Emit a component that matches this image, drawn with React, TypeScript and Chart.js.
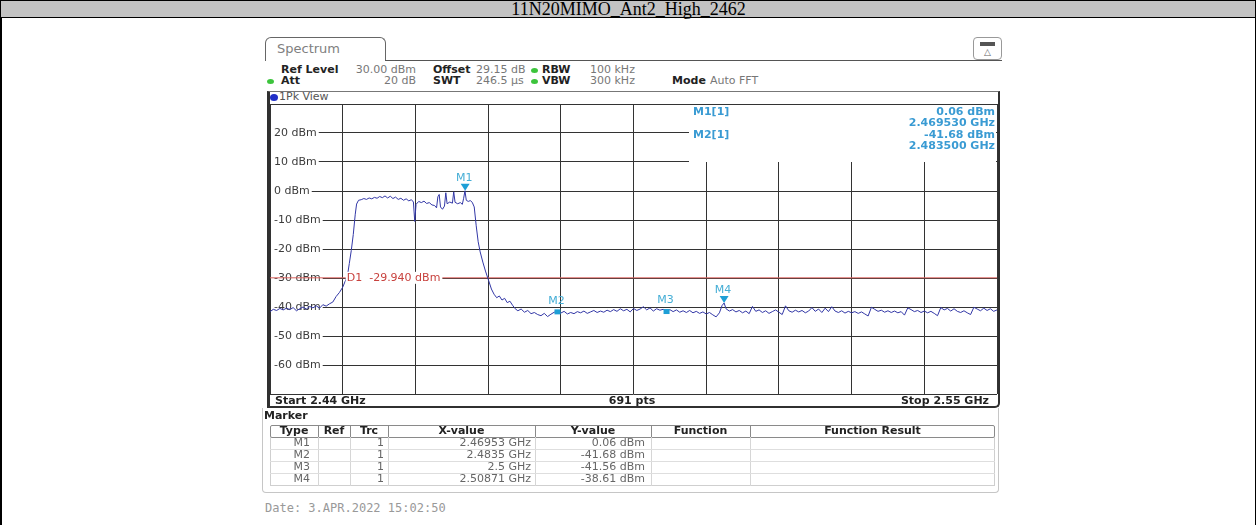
import React, { useEffect, useRef } from 'react';
import { Chart, registerables } from 'chart.js';

Chart.register(...registerables);

// ---------------- data ----------------
const chartTitle = '11N20MIMO_Ant2_High_2462';
const freqStartGHz = 2.44;
const freqStopGHz = 2.55;
const freqDivGHz = 0.011;
const levelMinDbm = -70;
const levelMaxDbm = 30;
const levelDivDb = 10;
const levelTickValues = [20, 10, 0, -10, -20, -30, -40, -50, -60];
const levelTickLabels = ['20 dBm', '10 dBm', '0 dBm', '-10 dBm', '-20 dBm', '-30 dBm', '-40 dBm', '-50 dBm', '-60 dBm'];

const traceFreqGHz = [
  2.4400, 2.4405, 2.4410, 2.4415, 2.4420, 2.4425, 2.4430, 2.4435, 2.4440, 2.4445,
  2.4450, 2.4455, 2.4460, 2.4465, 2.4470, 2.4475, 2.4480, 2.4485, 2.4490, 2.4495,
  2.4500, 2.4505, 2.4510, 2.4514, 2.4517, 2.4520, 2.4523, 2.4526, 2.4529, 2.4531,
  2.4534, 2.4538, 2.4542, 2.4546, 2.4550, 2.4554, 2.4558, 2.4562, 2.4566, 2.4570,
  2.4574, 2.4578, 2.4582, 2.4586, 2.4590, 2.4594, 2.4598, 2.4602, 2.4606, 2.4610,
  2.4614, 2.4617, 2.4619, 2.4621, 2.4625, 2.4629, 2.4633, 2.4637, 2.4641, 2.4645,
  2.4649, 2.4652, 2.4654, 2.4656, 2.4658, 2.4661, 2.4664, 2.4666, 2.4668, 2.4672,
  2.4676, 2.4678, 2.4680, 2.4684, 2.4688, 2.4691, 2.4693, 2.4695, 2.4697, 2.4700,
  2.4703, 2.4706, 2.4709, 2.4712, 2.4715, 2.4718, 2.4722, 2.4726, 2.4731, 2.4735,
  2.4739, 2.4743, 2.4747, 2.4751, 2.4755, 2.4759, 2.4763, 2.4767, 2.4771, 2.4775,
  2.4780, 2.4785, 2.4790, 2.4795, 2.4800, 2.4805, 2.4810, 2.4815, 2.4820, 2.4825,
  2.4830, 2.4835, 2.4840, 2.4845, 2.4850, 2.4855, 2.4860, 2.4865, 2.4870, 2.4875,
  2.4880, 2.4885, 2.4890, 2.4895, 2.4900, 2.4905, 2.4910, 2.4915, 2.4920, 2.4925,
  2.4930, 2.4935, 2.4940, 2.4945, 2.4950, 2.4955, 2.4960, 2.4965, 2.4970, 2.4975,
  2.4980, 2.4985, 2.4990, 2.4995, 2.5000, 2.5005, 2.5010, 2.5015, 2.5020, 2.5025,
  2.5030, 2.5035, 2.5040, 2.5045, 2.5050, 2.5055, 2.5060, 2.5065, 2.5070, 2.5075,
  2.5080, 2.5084, 2.50871, 2.5090, 2.5095, 2.5100, 2.5105, 2.5110, 2.5115, 2.5120,
  2.5125, 2.5130, 2.5135, 2.5140, 2.5145, 2.5150, 2.5155, 2.5160, 2.5165, 2.5170,
  2.5175, 2.5180, 2.5185, 2.5190, 2.5195, 2.5200, 2.5205, 2.5210, 2.5215, 2.5220,
  2.5225, 2.5230, 2.5235, 2.5240, 2.5245, 2.5250, 2.5255, 2.5260, 2.5265, 2.5270,
  2.5275, 2.5280, 2.5285, 2.5290, 2.5295, 2.5300, 2.5305, 2.5310, 2.5315, 2.5320,
  2.5325, 2.5330, 2.5335, 2.5340, 2.5345, 2.5350, 2.5355, 2.5360, 2.5365, 2.5370,
  2.5375, 2.5380, 2.5385, 2.5390, 2.5395, 2.5400, 2.5405, 2.5410, 2.5415, 2.5420,
  2.5425, 2.5430, 2.5435, 2.5440, 2.5445, 2.5450, 2.5455, 2.5460, 2.5465, 2.5470,
  2.5475, 2.5480, 2.5485, 2.5490, 2.5495, 2.5500,
];

const traceLevelDbm = [
  -41.6, -40.8, -41.2, -40.5, -41.0, -40.4, -40.9, -40.2, -41.3, -40.6,
  -40.0, -40.7, -39.8, -40.3, -39.6, -40.4, -39.2, -39.7, -38.9, -38.3,
  -36.4, -35.0, -33.2, -31.0, -29.5, -25.0, -20.5, -15.0, -8.0, -4.5,
  -3.2, -3.0, -2.6, -2.9, -2.4, -2.7, -2.2, -2.5, -1.9, -2.3,
  -1.7, -2.4, -1.8, -2.6, -2.1, -2.9, -2.5, -3.2, -2.7, -3.4,
  -3.0, -3.8, -10.5, -4.6, -3.6, -4.0, -3.5, -4.3, -4.0, -4.8,
  -5.0, -5.8, -2.0, -1.2, -5.5, -6.3, -5.2, -0.6, -4.4, -3.8,
  -4.2, -0.3, -3.9, -4.4, -4.0, -4.6, -2.5, 0.06, -3.2, -3.6,
  -3.3, -3.9, -5.5, -12.0, -17.5, -21.0, -24.5, -27.6, -31.0, -33.8,
  -35.6, -36.8, -36.2, -37.6, -37.0, -38.5, -38.0, -39.4, -40.6, -41.3,
  -40.7, -41.8, -41.2, -42.3, -41.9, -42.6, -43.0, -42.2, -43.3, -42.5,
  -41.8, -41.68, -42.1, -41.5, -42.4, -41.9, -42.3, -41.6, -42.0, -41.4,
  -42.2, -41.7, -41.2, -41.9, -41.4, -41.8, -41.1, -41.6, -40.9, -41.5,
  -40.6, -41.3, -40.8, -41.7, -40.5, -41.2, -40.7, -39.9, -41.0, -40.3,
  -41.4, -40.6, -41.1, -40.8, -41.56, -40.9, -41.6, -41.0, -41.8, -41.3,
  -41.9, -41.2, -42.0, -41.5, -42.2, -41.7, -42.4, -41.9, -42.7, -43.4,
  -42.0, -39.5, -38.61, -40.6, -41.4, -40.9, -41.7, -41.2, -42.0, -41.4,
  -42.3, -39.8, -41.5, -41.0, -41.9, -41.3, -42.2, -41.6, -41.0, -41.8,
  -42.6, -39.6, -41.3, -41.8, -41.1, -41.7, -41.2, -42.0, -41.4, -40.2,
  -41.5, -40.7, -41.9, -40.4, -41.6, -39.9, -41.4, -41.9, -41.3, -42.1,
  -41.5, -42.0, -41.6, -42.2, -41.7, -42.4, -43.1, -40.1, -40.8, -41.5,
  -41.1, -41.8, -41.3, -41.9, -41.4, -42.0, -41.6, -42.8, -40.3, -40.9,
  -41.6, -41.2, -41.9, -41.4, -42.0, -41.5, -42.2, -43.0, -40.2, -41.0,
  -40.5, -41.4, -40.6, -41.5, -41.9, -41.3, -42.0, -42.6, -40.1, -40.7,
  -41.3, -40.4, -41.2, -40.6, -41.5, -41.0,
];

const displayLineName = 'D1';
const displayLineDbm = -29.94;

const markerNames = ['M1', 'M2', 'M3', 'M4'];
const markerFreqGHz = [2.46953, 2.4835, 2.5, 2.50871];
const markerLevelDbm = [0.06, -41.68, -41.56, -38.61];
const markerTraces = [1, 1, 1, 1];
const markerSymbols = ['triangle', 'square', 'square', 'triangle'];
const markerInfoShown = [0, 1];

const tableHeaders = ['Type', 'Ref', 'Trc', 'X-value', 'Y-value', 'Function', 'Function Result'];

// ---------------- layout ----------------
const UI = '"DejaVu Sans", Verdana, sans-serif';
const PLOT = { left: 270, top: 104, width: 727, height: 290 };
const PAD = 4;
const COLS = [270, 318, 350, 388, 535, 651, 750, 995];

const TRACE_COLOR = '#3237a6';
const LINE_RED = '#d9605c';
const MARKER_CYAN = '#1e9fd6';
const MARKER_TEXT = '#45aed6';

const overlayPlugin = {
  id: 'rsOverlay',
  beforeDatasetsDraw(chart: any) {
    const { ctx, chartArea: a, scales } = chart;
    const y = scales.y;
    ctx.save();
    // marker info area covers the grid in the upper right
    ctx.fillStyle = '#ffffff';
    ctx.fillRect(a.right - 308, a.top + 1, 307, 57);
    // level labels inside the diagram
    ctx.font = `11px ${UI}`;
    ctx.textBaseline = 'middle';
    levelTickValues.forEach((v, i) => {
      const py = y.getPixelForValue(v);
      const w = ctx.measureText(levelTickLabels[i]).width;
      ctx.fillStyle = '#ffffff';
      ctx.fillRect(a.left + 1, py - 6, w + 5, 12);
      ctx.fillStyle = '#3c3c3c';
      ctx.fillText(levelTickLabels[i], a.left + 4, py + 0.5);
    });
    // marker info text
    ctx.font = `bold 11px ${UI}`;
    ctx.fillStyle = '#3a9bd3';
    markerInfoShown.forEach((m, k) => {
      const top = a.top + 8 + k * 23;
      ctx.textAlign = 'left';
      ctx.fillText(`${markerNames[m]}[${markerTraces[m]}]`, a.right - 304, top);
      ctx.textAlign = 'right';
      ctx.fillText(`${markerLevelDbm[m].toFixed(2)} dBm`, a.right - 2, top);
      ctx.fillText(`${markerFreqGHz[m].toFixed(6)} GHz`, a.right - 2, top + 11.5);
    });
    ctx.restore();
  },
  afterDatasetsDraw(chart: any) {
    const { ctx, scales } = chart;
    const x = scales.x;
    const y = scales.y;
    ctx.save();
    // display line label
    const dy = y.getPixelForValue(displayLineDbm);
    const lx = x.getPixelForValue(freqStartGHz + freqDivGHz) + 4;
    ctx.font = `11px ${UI}`;
    ctx.textBaseline = 'middle';
    const label = `${displayLineName}  ${displayLineDbm.toFixed(3)} dBm`;
    const lw = ctx.measureText(label).width;
    ctx.fillStyle = '#ffffff';
    ctx.fillRect(lx - 1, dy - 6, lw + 3, 12);
    ctx.fillStyle = '#c8423e';
    ctx.fillText(label, lx, dy + 0.5);
    // markers
    markerNames.forEach((name, i) => {
      const px = x.getPixelForValue(markerFreqGHz[i]);
      const py = y.getPixelForValue(markerLevelDbm[i]);
      ctx.fillStyle = MARKER_CYAN;
      if (markerSymbols[i] === 'triangle') {
        ctx.beginPath();
        ctx.moveTo(px, py);
        ctx.lineTo(px - 4.5, py - 7);
        ctx.lineTo(px + 4.5, py - 7);
        ctx.closePath();
        ctx.fill();
      } else {
        ctx.fillRect(px - 3, py - 2.5, 6, 5);
      }
      ctx.fillStyle = MARKER_TEXT;
      ctx.font = `11px ${UI}`;
      ctx.textAlign = 'center';
      ctx.fillText(name, px - 1, py - (markerSymbols[i] === 'triangle' ? 12.5 : 11));
    });
    ctx.restore();
  },
};

function Txt(props: any) {
  const { x, y, children, bold, color = '#333', size = 11, align = 'left', font = UI } = props;
  const w = 400;
  const style: any = {
    position: 'absolute', top: y - 8, height: 16, lineHeight: '16px',
    fontFamily: font, fontSize: size, fontWeight: bold ? 'bold' : 'normal',
    color, whiteSpace: 'nowrap',
  };
  if (align === 'left') style.left = x;
  else if (align === 'right') { style.left = x - w; style.width = w; style.textAlign = 'right'; }
  else { style.left = x - w / 2; style.width = w; style.textAlign = 'center'; }
  return <div style={style}>{children}</div>;
}

function Dot({ x, y, color }: any) {
  return <div style={{ position: 'absolute', left: x - 3.5, top: y - 2.5, width: 7, height: 5, borderRadius: '50%', background: color }} />;
}

function Box(props: any) {
  const { l, t, w, h, style } = props;
  return <div style={{ position: 'absolute', left: l, top: t, width: w, height: h, boxSizing: 'border-box', ...style }} />;
}

export default function App() {
  const ref = useRef<HTMLCanvasElement>(null);

  useEffect(() => {
    const xGrid: number[] = [];
    for (let i = 0; i <= Math.round((freqStopGHz - freqStartGHz) / freqDivGHz); i++) xGrid.push(freqStartGHz + i * freqDivGHz);
    const yGrid: number[] = [];
    for (let v = levelMinDbm; v <= levelMaxDbm; v += levelDivDb) yGrid.push(v);

    const chart = new Chart(ref.current as HTMLCanvasElement, {
      type: 'line',
      data: {
        datasets: [
          {
            data: traceFreqGHz.map((f, i) => ({ x: f, y: traceLevelDbm[i] })),
            borderColor: TRACE_COLOR,
            borderWidth: 1,
            pointRadius: 0,
            tension: 0,
          },
          {
            data: [{ x: freqStartGHz, y: displayLineDbm }, { x: freqStopGHz, y: displayLineDbm }],
            borderColor: LINE_RED,
            borderWidth: 1,
            pointRadius: 0,
          },
        ],
      },
      options: {
        animation: false,
        responsive: false,
        maintainAspectRatio: false,
        layout: { padding: PAD },
        plugins: { legend: { display: false }, tooltip: { enabled: false } },
        events: [],
        scales: {
          x: {
            type: 'linear', min: freqStartGHz, max: freqStopGHz,
            afterBuildTicks: (s: any) => { s.ticks = xGrid.map((v) => ({ value: v })); },
            ticks: { display: false },
            grid: { color: '#333333', lineWidth: 1, drawTicks: false },
            border: { display: false },
          },
          y: {
            type: 'linear', min: levelMinDbm, max: levelMaxDbm,
            afterBuildTicks: (s: any) => { s.ticks = yGrid.map((v) => ({ value: v })); },
            ticks: { display: false },
            grid: { color: '#333333', lineWidth: 1, drawTicks: false },
            border: { display: false },
          },
        },
      } as any,
      plugins: [overlayPlugin],
    });
    return () => chart.destroy();
  }, []);

  const rowY = [443, 455, 467, 479];
  const xText = markerFreqGHz.map((f) => `${f} GHz`);
  const yText = markerLevelDbm.map((v) => `${v.toFixed(2)} dBm`);

  return (
    <div style={{ position: 'absolute', left: 0, top: 0, width: 1257, height: 525, background: '#fff', overflow: 'hidden' }}>
      {/* outer report table */}
      <Box l={0} t={0} w={1256} h={560} style={{ borderLeft: '2px solid #000', borderRight: '1px solid #000', borderTop: '1px solid #000' }} />
      <Box l={1} t={1} w={1254} h={17} style={{ background: '#c3c3c3', borderBottom: '1px solid #000' }} />
      <div style={{ position: 'absolute', left: 0, top: 0, width: 1257, height: 18, lineHeight: '18px', textAlign: 'center', fontFamily: '"Liberation Serif", "Times New Roman", serif', fontSize: 18, color: '#000' }}>{chartTitle}</div>

      {/* spectrum tab */}
      <Box l={265} t={37} w={121} h={24} style={{ border: '1px solid #666', borderBottom: 'none', borderRadius: '6px 6px 0 0' }} />
      <Txt x={277} y={49} size={13} color="#808080">Spectrum</Txt>
      <Box l={385} t={60} w={617} h={1} style={{ background: '#555' }} />
      <Box l={973} t={37} w={29} h={23} style={{ border: '1px solid #999', borderRadius: 4 }} />
      <Box l={980} t={42} w={15} h={4} style={{ background: '#555' }} />
      <Txt x={987.5} y={52} size={9} color="#666" align="center">△</Txt>

      {/* settings */}
      <Txt x={281} y={70} bold color="#222">Ref Level</Txt>
      <Txt x={416} y={70} color="#777" align="right">30.00 dBm</Txt>
      <Txt x={433} y={70} bold color="#222">Offset</Txt>
      <Txt x={476} y={70} color="#777">29.15 dB</Txt>
      <Dot x={534} y={70} color="#3cc43c" />
      <Txt x={542} y={70} bold color="#222">RBW</Txt>
      <Txt x={590} y={70} color="#777">100 kHz</Txt>

      <Dot x={270} y={81} color="#3cc43c" />
      <Txt x={281} y={81} bold color="#222">Att</Txt>
      <Txt x={416} y={81} color="#777" align="right">20 dB</Txt>
      <Txt x={433} y={81} bold color="#222">SWT</Txt>
      <Txt x={476} y={81} color="#777">246.5 µs</Txt>
      <Dot x={534} y={81} color="#3cc43c" />
      <Txt x={542} y={81} bold color="#222">VBW</Txt>
      <Txt x={590} y={81} color="#777">300 kHz</Txt>
      <Txt x={672} y={81} bold color="#222">Mode</Txt>
      <Txt x={710} y={81} color="#777">Auto FFT</Txt>

      {/* diagram frame */}
      <Box l={267} t={91} w={733} h={317} style={{ borderLeft: '3px solid #303030', borderRight: '2px solid #303030', borderBottom: '2px solid #303030', borderTop: '1px solid #777', borderRadius: '0 0 5px 0' }} />
      <div style={{ position: 'absolute', left: 270, top: 94, width: 8, height: 7, borderRadius: '50%', background: '#2130c8' }} />
      <Txt x={279} y={97} size={11} color="#555">1Pk View</Txt>

      <canvas ref={ref} width={PLOT.width + 2 * PAD} height={PLOT.height + 2 * PAD}
        style={{ position: 'absolute', left: PLOT.left - PAD, top: PLOT.top - PAD, width: PLOT.width + 2 * PAD, height: PLOT.height + 2 * PAD }} />

      <Txt x={275} y={401} bold color="#222">Start {freqStartGHz} GHz</Txt>
      <Txt x={632} y={401} bold color="#222" align="center">691 pts</Txt>
      <Txt x={989} y={401} bold color="#222" align="right">Stop {freqStopGHz} GHz</Txt>

      {/* marker table */}
      <Box l={262} t={408} w={737} h={85} style={{ borderLeft: '1px solid #c6c6c6', borderRight: '1px solid #c6c6c6', borderBottom: '1px solid #c6c6c6', borderRadius: '0 0 4px 4px' }} />
      <Txt x={264} y={416} bold color="#222">Marker</Txt>
      <Box l={COLS[0]} t={425} w={COLS[7] - COLS[0]} h={13} style={{ border: '1px solid #8a8a8a', borderRadius: 2 }} />
      <Box l={COLS[0]} t={437} w={COLS[7] - COLS[0]} h={49} style={{ borderLeft: '1px solid #cfcfcf', borderRight: '1px solid #cfcfcf', borderBottom: '1px solid #cfcfcf' }} />
      {COLS.slice(1, 7).map((c, i) => (
        <React.Fragment key={'c' + i}>
          <Box l={c} t={426} w={1} h={11} style={{ background: '#8a8a8a' }} />
          <Box l={c} t={437} w={1} h={49} style={{ background: '#d6d6d6' }} />
        </React.Fragment>
      ))}
      {rowY.slice(0, 3).map((ry, i) => (
        <Box key={'r' + i} l={COLS[0]} t={ry + 6} w={COLS[7] - COLS[0]} h={1} style={{ background: '#dedede' }} />
      ))}
      {tableHeaders.map((h, i) => (
        <Txt key={'h' + i} x={(COLS[i] + COLS[i + 1]) / 2} y={431} bold color="#222" align="center">{h}</Txt>
      ))}
      {markerNames.map((m, i) => (
        <React.Fragment key={'m' + i}>
          <Txt x={COLS[1] - 8} y={rowY[i]} color="#666" align="right">{m}</Txt>
          <Txt x={COLS[3] - 4} y={rowY[i]} color="#666" align="right">{markerTraces[i]}</Txt>
          <Txt x={COLS[4] - 4} y={rowY[i]} color="#666" align="right">{xText[i]}</Txt>
          <Txt x={COLS[5] - 6} y={rowY[i]} color="#666" align="right">{yText[i]}</Txt>
        </React.Fragment>
      ))}

      <Txt x={265} y={508} size={12} color="#999" font={'"DejaVu Sans Mono", monospace'}>Date: 3.APR.2022  15:02:50</Txt>
    </div>
  );
}
